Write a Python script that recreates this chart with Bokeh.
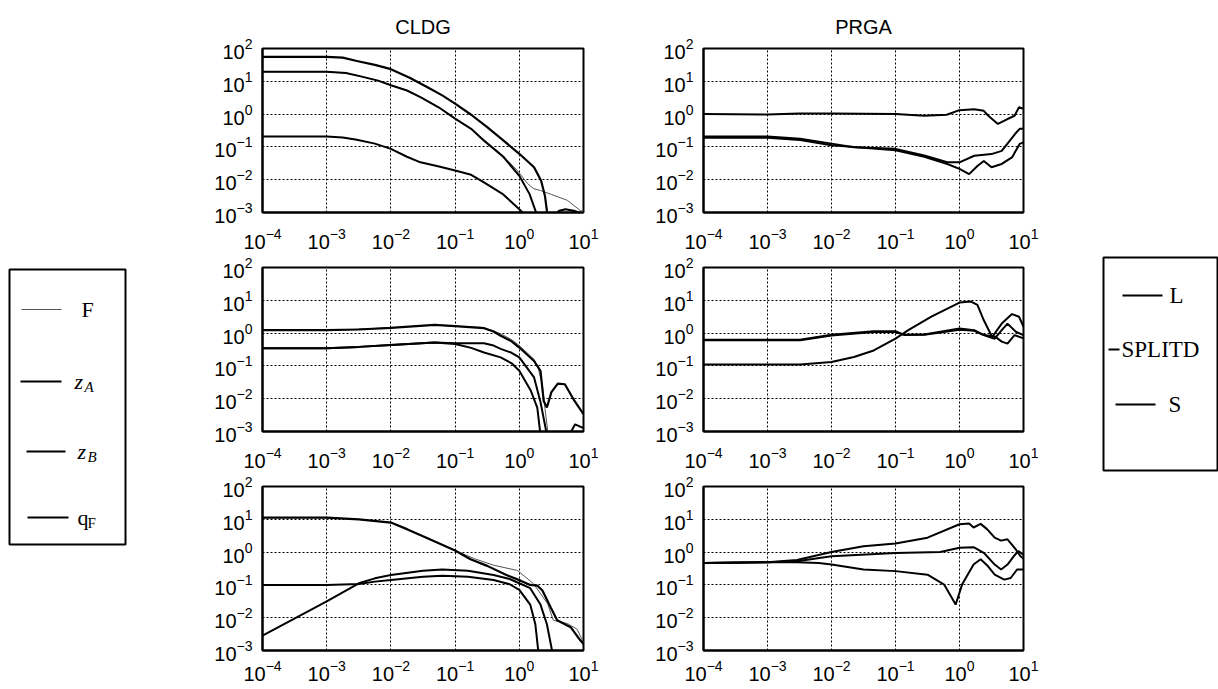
import numpy as np
from bokeh.plotting import figure
from bokeh.layouts import row, column
from bokeh.models import Range1d, FixedTicker, LogTickFormatter
from bokeh.core.properties import value
from bokeh.embed import file_html
from bokeh.resources import INLINE

# ---------------------------------------------------------------------------
# Curves as (log10 frequency, log10 magnitude) pairs
# ---------------------------------------------------------------------------

# CLDG, top panel
cldg_top_F = [(-4, 1.29), (-3, 1.29), (-2.7, 1.25), (-2.47, 1.15), (-2.2, 1.02), (-2, 0.88),
              (-1.75, 0.72), (-1.54, 0.52), (-1.25, 0.2), (-1, -0.14), (-0.75, -0.45),
              (-0.55, -0.78), (-0.29, -1.2), (-0.03, -1.72), (0.13, -2.12), (0.22, -2.27),
              (0.33, -2.33), (0.5, -2.45), (0.75, -2.63), (0.95, -2.94), (1.0, -2.96)]
cldg_top_zA = [(-4, 1.745), (-3, 1.745), (-2.75, 1.72), (-2.53, 1.62), (-2.25, 1.5), (-2, 1.37),
               (-1.7, 1.1), (-1.43, 0.82), (-1.2, 0.57), (-1, 0.32), (-0.75, -0.02), (-0.5, -0.4),
               (-0.25, -0.8), (0, -1.21), (0.23, -1.62), (0.34, -2.03), (0.40, -2.5), (0.44, -3.1),
               (0.5, -3.2), (0.62, -2.95), (0.72, -2.9), (0.85, -2.95), (1.0, -3.05)]
cldg_top_zB = [(-4, 1.29), (-3, 1.29), (-2.7, 1.25), (-2.47, 1.15), (-2.2, 1.02), (-2, 0.88),
               (-1.75, 0.72), (-1.54, 0.52), (-1.25, 0.2), (-1, -0.14), (-0.75, -0.45),
               (-0.55, -0.81), (-0.25, -1.3), (0, -1.88), (0.16, -2.44), (0.28, -3.1)]
cldg_top_qF = [(-4, -0.68), (-3, -0.68), (-2.75, -0.71), (-2.53, -0.78), (-2.25, -0.9), (-2, -1.06),
               (-1.75, -1.3), (-1.54, -1.47), (-1.25, -1.6), (-1, -1.72), (-0.75, -1.85),
               (-0.55, -2.08), (-0.25, -2.45), (0, -2.9), (0.1, -3.1)]

# CLDG, middle panel
cldg_mid_F = [(-4, 0.09), (-3, 0.09), (-2, 0.16), (-1.32, 0.25), (-1, 0.21), (-0.55, 0.17),
              (-0.29, -0.02), (-0.12, -0.2), (0, -0.38), (0.23, -0.8), (0.3, -1.1), (0.36, -1.6),
              (0.40, -2.3), (0.45, -3.1)]
cldg_mid_zA = [(-4, 0.09), (-3, 0.09), (-2.5, 0.11), (-2, 0.16), (-1.32, 0.25), (-1, 0.21),
               (-0.55, 0.15), (-0.4, 0.05), (-0.29, -0.08), (-0.12, -0.25), (0, -0.44),
               (0.23, -0.85), (0.33, -1.15), (0.38, -2.07), (0.43, -2.27), (0.5, -1.8),
               (0.6, -1.54), (0.71, -1.56), (0.86, -2.07), (1.0, -2.47)]
cldg_mid_zB = [(-4, -0.46), (-3, -0.46), (-2.5, -0.42), (-2, -0.36), (-1.32, -0.29), (-1, -0.31),
               (-0.55, -0.31), (-0.4, -0.38), (-0.29, -0.48), (-0.12, -0.6), (0, -0.74),
               (0.23, -1.35), (0.33, -2.1), (0.43, -3.1), (0.6, -3.3), (0.75, -3.2), (0.87, -2.78),
               (1.0, -2.9)]
cldg_mid_qF = [(-4, -0.46), (-3, -0.46), (-2.5, -0.42), (-2, -0.36), (-1.32, -0.29), (-1, -0.33),
               (-0.75, -0.45), (-0.55, -0.59), (-0.29, -0.74), (-0.12, -0.92), (0, -1.15),
               (0.18, -1.76), (0.28, -2.27), (0.33, -3.1)]

# CLDG, bottom panel
cldg_bot_F = [(-4, 1.05), (-3, 1.05), (-2.5, 1.0), (-2, 0.9), (-1.75, 0.7), (-1.5, 0.48), (-1, 0.05),
              (-0.7, -0.2), (-0.4, -0.4), (-0.03, -0.56), (0.22, -0.96), (0.44, -1.57),
              (0.53, -2.08), (0.75, -2.18), (0.9, -2.35), (1.0, -2.75)]
cldg_bot_zA = [(-4, 1.05), (-3, 1.05), (-2.5, 1.0), (-2, 0.9), (-1.75, 0.7), (-1.5, 0.48), (-1, 0.05),
               (-0.76, -0.22), (-0.5, -0.42), (-0.2, -0.7), (0.02, -0.87), (0.17, -1.0),
               (0.28, -1.02), (0.36, -1.17), (0.49, -1.69), (0.59, -2.08), (0.8, -2.29),
               (0.95, -2.69), (1.0, -2.8)]
cldg_bot_zB = [(-4, -2.55), (-3, -1.5), (-2.5, -0.95), (-2.25, -0.8), (-2, -0.7), (-1.5, -0.57),
               (-1.2, -0.53), (-0.8, -0.57), (-0.4, -0.7), (-0.15, -0.82), (0, -0.95), (0.17, -1.1),
               (0.33, -1.6), (0.43, -2.2), (0.52, -3.1)]
cldg_bot_qF = [(-4, -1.0), (-3, -1.0), (-2.5, -0.97), (-2.25, -0.9), (-2, -0.85), (-1.5, -0.75),
               (-1.2, -0.72), (-0.8, -0.75), (-0.4, -0.85), (-0.15, -0.98), (0, -1.15),
               (0.17, -1.6), (0.25, -2.2), (0.30, -3.1)]

# PRGA, top panel
prga_top_L = [(-4, 0.0), (-3, -0.01), (-2.5, 0.02), (-2, 0.02), (-1, 0.0), (-0.55, -0.05),
              (-0.2, -0.02), (0, 0.12), (0.23, 0.15), (0.38, 0.1), (0.45, -0.05), (0.6, -0.3),
              (0.75, -0.15), (0.86, -0.05), (0.93, 0.21), (1.0, 0.16)]
prga_top_SPLITD = [(-4, -0.68), (-3, -0.68), (-2.49, -0.75), (-2, -0.9), (-1.65, -1.01), (-1, -1.06),
                   (-0.55, -1.26), (-0.19, -1.47), (0, -1.47), (0.23, -1.27), (0.5, -1.22),
                   (0.66, -1.12), (0.87, -0.6), (0.94, -0.45), (1.0, -0.45)]
prga_top_S = [(-4, -0.72), (-3, -0.72), (-2.49, -0.79), (-2, -0.95), (-1, -1.1), (-0.55, -1.3),
              (-0.19, -1.52), (0, -1.67), (0.15, -1.83), (0.28, -1.58), (0.38, -1.43), (0.5, -1.62),
              (0.66, -1.52), (0.82, -1.32), (0.94, -0.91), (1.0, -0.86)]

# PRGA, middle panel
prga_mid_L = [(-4, -0.2), (-2.49, -0.2), (-2, -0.05), (-1.34, 0.06), (-1, 0.06), (-0.86, -0.06),
              (-0.55, -0.04), (0, 0.14), (0.23, 0.09), (0.38, -0.06), (0.55, -0.17), (0.66, 0.09),
              (0.75, 0.29), (0.88, 0.04), (1.0, -0.06)]
prga_mid_SPLITD = [(-4, -0.22), (-2.49, -0.22), (-2, -0.07), (-1.34, 0.03), (-1, 0.03), (-0.86, -0.05),
                   (-0.55, -0.05), (0, 0.1), (0.23, 0.07), (0.38, -0.06), (0.55, -0.1), (0.66, -0.26),
                   (0.75, -0.32), (0.86, -0.06), (1.0, -0.16)]
prga_mid_S = [(-4, -0.955), (-2.49, -0.955), (-2, -0.88), (-1.65, -0.73), (-1.34, -0.53), (-1, -0.17),
              (-0.8, 0.09), (-0.44, 0.5), (0, 0.93), (0.18, 0.96), (0.28, 0.86), (0.38, 0.39),
              (0.51, -0.12), (0.66, 0.29), (0.82, 0.58), (0.93, 0.5), (1.0, 0.19)]

# PRGA, bottom panel
prga_bot_L = [(-4, -0.33), (-3, -0.31), (-2.54, -0.24), (-2, 0.0), (-1.5, 0.18), (-1, 0.26),
              (-0.5, 0.44), (0, 0.85), (0.15, 0.87), (0.22, 0.75), (0.33, 0.86), (0.43, 0.7),
              (0.55, 0.44), (0.65, 0.35), (0.75, 0.39), (0.88, 0.08), (0.95, -0.12), (1.0, -0.2)]
prga_bot_SPLITD = [(-4, -0.33), (-3, -0.31), (-2.54, -0.28), (-2, -0.13), (-1, -0.03), (-0.3, 0.0),
                   (0, 0.13), (0.22, 0.15), (0.38, -0.02), (0.55, -0.38), (0.65, -0.53),
                   (0.75, -0.38), (0.85, -0.12), (0.92, 0.03), (1.0, -0.08)]
prga_bot_S = [(-4, -0.33), (-3, -0.31), (-2.54, -0.31), (-2.2, -0.33), (-2, -0.38), (-1.5, -0.53),
              (-1, -0.58), (-0.5, -0.69), (-0.24, -0.99), (-0.06, -1.6), (0.04, -0.99),
              (0.22, -0.38), (0.33, -0.22), (0.43, -0.4), (0.55, -0.69), (0.7, -0.84),
              (0.8, -0.79), (0.9, -0.53), (1.0, -0.53)]

x_ticks = [1e-4, 1e-3, 1e-2, 1e-1, 1e0, 1e1]
y_ticks = [1e-3, 1e-2, 1e-1, 1e0, 1e1, 1e2]

cldg_names = ["F", "zA", "zB", "qF"]
prga_names = ["L", "SPLITD", "S"]

# line styles per series
STYLE = {
    "F": dict(line_color="#555555", line_width=1.0),
    "zA": dict(line_color="black", line_width=2.2),
    "zB": dict(line_color="black", line_width=2.0),
    "qF": dict(line_color="black", line_width=2.0),
    "L": dict(line_color="black", line_width=2.0),
    "SPLITD": dict(line_color="black", line_width=2.0),
    "S": dict(line_color="black", line_width=2.0),
}

SANS = "Liberation Sans"
SERIF = "Liberation Serif"

FRAME_H = 164


def panel(title, curves, names, frame_w, top, bottom, right, x_standoff):
    p = figure(x_axis_type="log", y_axis_type="log",
               x_range=Range1d(1e-4, 10), y_range=Range1d(1e-3, 100),
               frame_width=frame_w, frame_height=FRAME_H,
               min_border_left=60, min_border_right=right,
               min_border_top=top, min_border_bottom=bottom,
               output_backend="svg", toolbar_location=None)
    p.xaxis.ticker = FixedTicker(ticks=x_ticks, minor_ticks=[])
    p.yaxis.ticker = FixedTicker(ticks=y_ticks, minor_ticks=[])
    p.xaxis.formatter = LogTickFormatter()
    p.yaxis.formatter = LogTickFormatter()
    for ax in (p.xaxis, p.yaxis):
        ax.major_tick_line_color = None
        ax.minor_tick_line_color = None
        ax.axis_line_color = "black"
        ax.axis_line_width = 2
        ax.major_label_text_font = SANS
        ax.major_label_text_font_size = "20px"
        ax.major_label_text_color = "black"
    p.xaxis.major_label_standoff = x_standoff
    p.yaxis.major_label_standoff = 4
    p.grid.grid_line_color = "black"
    p.grid.grid_line_dash = "2 2"
    p.grid.grid_line_width = 1
    p.outline_line_color = "black"
    p.outline_line_width = 2
    p.outline_line_alpha = 1
    if title:
        p.title.text = title
        p.title.align = "center"
        p.title.text_font = SANS
        p.title.text_font_size = "20px"
        p.title.text_font_style = "normal"
        p.title.text_color = "black"
        p.title.standoff = 22
    for name, pts in zip(names, curves):
        arr = np.array(pts, dtype=float)
        p.line(10 ** arr[:, 0], 10 ** arr[:, 1], **STYLE[name])
    return p


cldg_sets = [[cldg_top_F, cldg_top_zA, cldg_top_zB, cldg_top_qF],
             [cldg_mid_F, cldg_mid_zA, cldg_mid_zB, cldg_mid_qF],
             [cldg_bot_F, cldg_bot_zA, cldg_bot_zB, cldg_bot_qF]]
prga_sets = [[prga_top_L, prga_top_SPLITD, prga_top_S],
             [prga_mid_L, prga_mid_SPLITD, prga_mid_S],
             [prga_bot_L, prga_bot_SPLITD, prga_bot_S]]

# (top border, bottom border, x-label standoff) per row
row_layout = [(48, 40, 9), (15, 40, 9), (15, 39, 3)]

left_col = []
right_col = []
for i, (tb, bb, xs) in enumerate(row_layout):
    left_col.append(panel("CLDG" if i == 0 else None, cldg_sets[i], cldg_names, 321, tb, bb, 60, xs))
    right_col.append(panel("PRGA" if i == 0 else None, prga_sets[i], prga_names, 320, tb, bb, 20, xs))


def legend_canvas(w):
    q = figure(width=w, height=689, x_range=Range1d(0, w), y_range=Range1d(689, 0),
               x_axis_location=None, y_axis_location=None, min_border=0,
               output_backend="svg", toolbar_location=None)
    q.grid.visible = False
    q.outline_line_color = None
    return q


# left legend panel (CLDG series)
lg = legend_canvas(202)
lg.quad(left=[9], right=[125], top=[269], bottom=[544], fill_color=None,
        line_color="black", line_width=2)
l_rows = [309, 381, 451, 517]
l_x0 = [21, 20, 26, 27]
l_x1 = [61, 61, 65, 68]
l_main = ["F", "z", "z", "q"]
l_sub = ["", "A", "B", "F"]
l_main_x = [81, 74, 77, 77]
l_main_style = ["normal", "italic", "italic", "normal"]
for name, yv, a, b, t, s, tx, st in zip(cldg_names, l_rows, l_x0, l_x1, l_main, l_sub,
                                        l_main_x, l_main_style):
    lg.line([a, b], [yv, yv], **STYLE[name])
    lg.text([tx], [yv], text=[t], text_font=value(SERIF), text_font_size="22px",
            text_font_style=st, text_baseline="middle", text_color="black")
    if s:
        lg.text([tx + 10], [yv + 5], text=[s], text_font=value(SERIF), text_font_size="15px",
                text_font_style=st, text_baseline="middle", text_color="black")

# right legend panel (PRGA series)
rg = legend_canvas(175)
rg.quad(left=[60], right=[174], top=[257], bottom=[470], fill_color=None,
        line_color="black", line_width=2)
r_rows = [295, 349, 404]
r_x0 = [79, 65, 72]
r_x1 = [119, 76, 112]
r_text_x = [126, 78, 125]
for name, yv, a, b, tx in zip(prga_names, r_rows, r_x0, r_x1, r_text_x):
    rg.line([a, b], [yv, yv], **STYLE[name])
    rg.text([tx], [yv], text=[name], text_font=value(SERIF), text_font_size="23px",
            text_baseline="middle", text_color="black")

layout = row(lg, column(*left_col, spacing=0), column(*right_col, spacing=0), rg, spacing=0)

open("out.html", "w").write(file_html(layout, INLINE, "CLDG and PRGA"))
